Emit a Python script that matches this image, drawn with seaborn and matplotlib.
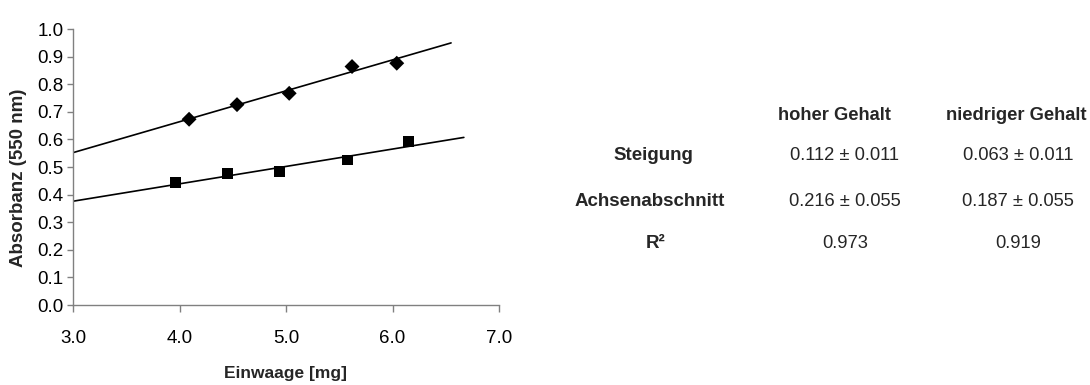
import numpy as np
import pandas as pd
import matplotlib
matplotlib.use("Agg")
import matplotlib.pyplot as plt
import seaborn as sns

# ---- data ----
hoch_x = [4.09, 4.54, 5.03, 5.62, 6.04]
hoch_y = [0.673, 0.726, 0.767, 0.864, 0.876]
niedrig_x = [3.96, 4.45, 4.94, 5.58, 6.15]
niedrig_y = [0.443, 0.477, 0.483, 0.525, 0.593]

steigung = [0.112, 0.063]
achsenabschnitt = [0.216, 0.187]
trend_start = [3.0, 3.0]
trend_end = [6.55, 6.67]

spalten = ["hoher Gehalt", "niedriger Gehalt"]
zeilen = ["Steigung", "Achsenabschnitt", "R²"]
werte = [["0.112 ± 0.011", "0.063 ± 0.011"],
         ["0.216 ± 0.055", "0.187 ± 0.055"],
         ["0.973", "0.919"]]

xticks = [3.0, 4.0, 5.0, 6.0, 7.0]
yticks = [0.0, 0.1, 0.2, 0.3, 0.4, 0.5, 0.6, 0.7, 0.8, 0.9, 1.0]

sns.set_theme(style="white")
plt.rcParams['font.family'] = ['Liberation Sans', 'DejaVu Sans']

W, H = 1090, 385
AX_L, AX_R, AX_T, AX_B = 73, 499, 29, 305
fig = plt.figure(figsize=(W/100, H/100), dpi=100)
ax = fig.add_axes([AX_L/W, 1 - AX_B/H, (AX_R-AX_L)/W, (AX_B-AX_T)/H])

pts = pd.DataFrame({
    "x": hoch_x + niedrig_x,
    "y": hoch_y + niedrig_y,
    "serie": ["hoch"] * len(hoch_x) + ["niedrig"] * len(niedrig_x),
})
sns.scatterplot(data=pts, x="x", y="y", style="serie",
                markers={"hoch": "D", "niedrig": "s"},
                size="serie", sizes={"hoch": 58, "niedrig": 60},
                color="black", edgecolor="black", linewidth=0,
                legend=False, ax=ax, zorder=3)

lines = []
for name, m, b, x0, x1 in zip(["hoch", "niedrig"], steigung, achsenabschnitt,
                              trend_start, trend_end):
    xs = np.array([x0, x1])
    lines.append(pd.DataFrame({"x": xs, "y": m * xs + b, "serie": name}))
lines = pd.concat(lines)
sns.lineplot(data=lines, x="x", y="y", units="serie", estimator=None,
             color="black", linewidth=1.2, ax=ax, legend=False)

ax.set_xlim(3.0, 7.0)
ax.set_ylim(0.0, 1.0)
ax.set_xticks(xticks)
ax.set_xticklabels([f"{v:.1f}" for v in xticks])
ax.set_yticks(yticks)
ax.set_yticklabels([f"{v:.1f}" for v in yticks])

for s in ["top", "right"]:
    ax.spines[s].set_visible(False)
for s in ["left", "bottom"]:
    ax.spines[s].set_color("#808080")
    ax.spines[s].set_linewidth(1.0)

ax.tick_params(axis="x", direction="out", length=5, width=1, color="#808080",
               pad=13, labelsize=13.5, labelcolor="black", bottom=True)
ax.tick_params(axis="y", direction="out", length=4, width=1, color="#808080",
               pad=3, labelsize=13.5, labelcolor="black", left=True)

aw, ah = AX_R - AX_L, AX_B - AX_T
ax.set_xlabel("Einwaage [mg]", fontsize=12.5, fontweight="bold")
ax.set_ylabel("Absorbanz (550 nm)", fontsize=13.5, fontweight="bold")
ax.xaxis.set_label_coords((286 - AX_L)/aw, -(366 - AX_B)/ah)
ax.yaxis.set_label_coords(-(AX_L - 27)/aw, (AX_B - 178)/ah)

# table on the right
head_x = [834, 1016]
val_x = [845, 1018]
head_y = 115
row_y = [155, 202, 243]
row_x = [653, 650, 656]
for cx, name in zip(head_x, spalten):
    fig.text(cx/W, 1 - head_y/H, name, ha="center", va="center",
             fontsize=13.2, fontweight="bold")
for i, (rx, ry, name) in enumerate(zip(row_x, row_y, zeilen)):
    fig.text(rx/W, 1 - ry/H, name, ha="center", va="center",
             fontsize=13.5, fontweight="bold")
    for cx, val in zip(val_x, werte[i]):
        fig.text(cx/W, 1 - ry/H, val, ha="center", va="center",
                 fontsize=13.2)

fig.savefig("out.png", dpi=100)
